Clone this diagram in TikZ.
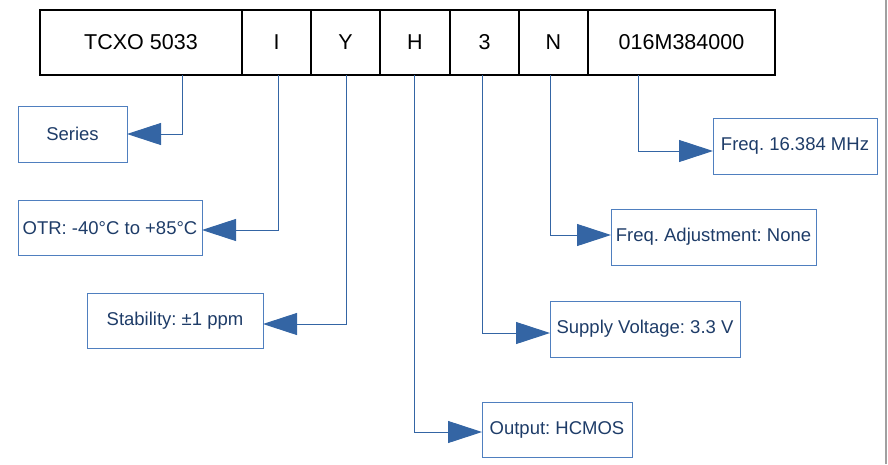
\documentclass[tikz,border=0pt]{standalone}
\usepackage{fontspec}
\setmainfont{Liberation Sans}
\usetikzlibrary{arrows.meta}
\definecolor{lineblue}{HTML}{3465A4}
\definecolor{boxblue}{HTML}{4F7FBF}
\definecolor{textblue}{HTML}{1E3C68}
\definecolor{edgegray}{HTML}{A0A0A0}
\tikzset{
  cell/.style={draw=black, line width=1.3pt, minimum height=65pt, inner sep=0pt, outer sep=0pt,
    font=\frenchspacing\fontsize{21.5}{24}\selectfont, text=black},
  lbl/.style={draw=boxblue, line width=1pt, inner sep=0pt, outer sep=0pt,
    font=\frenchspacing\fontsize{18.5}{22}\selectfont, text=textblue},
  conn/.style={draw=lineblue, line width=1pt, -{Triangle[length=34pt,width=22pt,fill=lineblue]}}
}
\begin{document}
\frenchspacing
\begin{tikzpicture}[x=1pt,y=-1pt]
\useasboundingbox (0,0) rectangle (888,464);
\draw[edgegray, line width=1.5pt] (886,0) coordinate (g1) -- (886,464) coordinate (g2);
% top row
\node[cell, minimum width=202pt] (tcxo) at (141,42.5) {TCXO 5033};
\node[cell, minimum width=69pt] (ci) at (276.5,42.5) {I};
\node[cell, minimum width=69pt] (cy) at (345.5,42.5) {Y};
\node[cell, minimum width=70pt] (ch) at (415,42.5) {H};
\node[cell, minimum width=69pt] (c3) at (484.5,42.5) {3};
\node[cell, minimum width=69pt] (cn) at (553.5,42.5) {N};
\node[cell, minimum width=187pt] (cf) at (681.5,42.5) {016M384000};
% labels
\node[lbl, minimum width=109pt, minimum height=56pt] (series) at (72.5,134) {Series};
\node[lbl, minimum width=184pt, minimum height=55pt] (otr) at (110,228) {OTR: -40°C to +85°C};
\node[lbl, minimum width=176pt, minimum height=55pt] (stab) at (175,321) {Stability: ±1 ppm};
\node[lbl, minimum width=150pt, minimum height=55pt] (outp) at (557,430) {Output: HCMOS};
\node[lbl, minimum width=190pt, minimum height=56pt] (supp) at (645,329) {Supply Voltage: 3.3 V};
\node[lbl, minimum width=205pt, minimum height=56pt] (fadj) at (713.5,237) {Freq. Adjustment: None};
\node[lbl, minimum width=164pt, minimum height=56pt] (freq) at (795,146) {Freq. 16.384 MHz};
% connectors
\draw[conn] ([xshift=41pt]tcxo.south) |- (series.east);
\draw[conn] ([xshift=1.5pt]ci.south) |- ([yshift=-2pt]otr.east);
\draw[conn] ([xshift=0.5pt]cy.south) |- ([yshift=-3pt]stab.east);
\draw[conn] ([xshift=-1pt]ch.south) |- ([yshift=-2pt]outp.west);
\draw[conn] ([xshift=-2.5pt]c3.south) |- ([yshift=-4pt]supp.west);
\draw[conn] ([xshift=-3.5pt]cn.south) |- ([yshift=2pt]fadj.west);
\draw[conn] ([xshift=-43.5pt]cf.south) |- ([yshift=-5pt]freq.west);
\end{tikzpicture}
\end{document}
